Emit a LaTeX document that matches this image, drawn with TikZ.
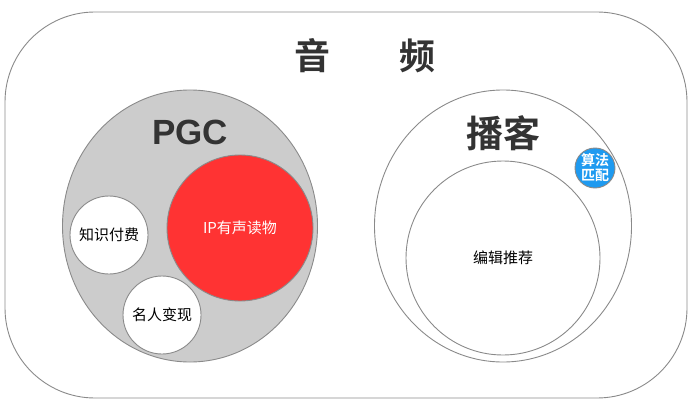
\documentclass[tikz,border=0pt]{standalone}
\usepackage{fontspec}
\setmainfont{Liberation Sans}
\newfontfamily\cjk{Noto Sans CJK SC}
\newfontfamily\cjkbold{Noto Sans CJK SC Bold}
\usetikzlibrary{shapes,calc}

\definecolor{rimgray}{HTML}{8A8A8A}
\definecolor{pgcgray}{HTML}{CCCCCC}
\definecolor{iporange}{HTML}{FF3333}
\definecolor{algblue}{HTML}{1E9AF0}
\definecolor{titlegray}{HTML}{333333}

\tikzset{
  rim/.style={draw=rimgray,line width=0.9pt},
  ball/.style={rim,circle,inner sep=0pt,align=center,font=\cjk\fontsize{15}{17}\selectfont}
}

\begin{document}
\begin{tikzpicture}[x=1pt,y=-1pt]
  \useasboundingbox (0,0) rectangle (692,409);
  \draw[rim,rounded corners=90pt] (5,12) rectangle (687,398);
  \node[text=titlegray,font=\cjkbold\fontsize{36}{40}\selectfont] (T0) at (365,56) {音\hspace{1.9em}频};
  % PGC side
  \node[rim,ellipse,fill=pgcgray,minimum width=255pt,minimum height=272pt] (P0) at (190,226) {};
  \node[text=titlegray,font=\bfseries\fontsize{35}{40}\selectfont] (P1) at ($(P0)+(0,-94)$) {PGC};
  \node[ball,fill=iporange,text=white,minimum size=146pt] (P2) at (240,228) {IP有声读物};
  \node[ball,fill=white,minimum size=78pt] (P3) at (109,235) {知识付费};
  \node[ball,fill=white,minimum size=78pt] (P4) at (162,315) {名人变现};
  % podcast side
  \node[rim,ellipse,minimum width=257pt,minimum height=272pt] (B0) at (503,226) {};
  \node[text=titlegray,font=\cjkbold\fontsize{37}{40}\selectfont] (B1) at ($(B0)+(0,-93)$) {播客};
  \node[ball,minimum size=194pt] (B2) at (503,258) {编辑推荐};
  \node[ball,fill=algblue,text=white,minimum size=40pt,font=\cjkbold\fontsize{14}{16}\selectfont] (B3) at (595,168) {算法\\[-1pt]匹配};
\end{tikzpicture}
\end{document}
